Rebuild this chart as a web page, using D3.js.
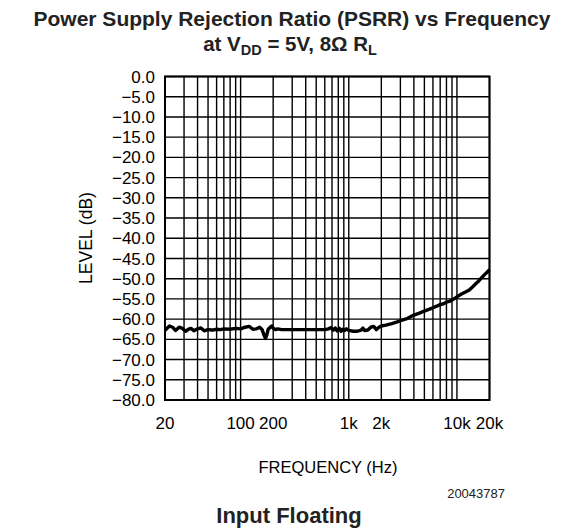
<!DOCTYPE html>
<html><head><meta charset="utf-8">
<script src="https://cdn.jsdelivr.net/npm/d3@7"></script>
<style>body{margin:0;background:#fff}</style>
</head><body>
<svg id="c" width="580" height="529"></svg>
<script>
const freq = [20,21,22,23.5,25,27,29,31,33,35,37,40,43,46,50,55,60,65,70,80,90,100,110,120,130,140,150,158,165,170,175,180,188,195,200,210,220,240,260,300,350,400,450,500,550,600,650,680,720,750,780,820,850,880,920,950,1000,1100,1200,1300,1350,1400,1500,1600,1700,1800,1900,2000,2200,2500,2800,3000,3500,4000,4500,5000,5500,6000,6500,7000,7500,8000,8500,9000,10000,11000,12000,13000,14000,15000,16000,17000,18000,19000,20000];
const psrr = [-62.8,-62.2,-61.7,-62.0,-62.8,-62.0,-62.3,-63.0,-62.5,-62.3,-62.9,-62.4,-62.2,-62.9,-62.6,-62.7,-62.5,-62.6,-62.4,-62.5,-62.3,-62.4,-62.0,-61.8,-62.5,-62.4,-62.0,-62.6,-64.0,-64.8,-63.8,-62.5,-62.0,-61.7,-62.2,-62.6,-62.4,-62.6,-62.6,-62.6,-62.6,-62.6,-62.6,-62.6,-62.6,-62.6,-62.4,-62.1,-62.7,-62.2,-62.9,-62.3,-63.0,-62.5,-62.8,-62.4,-62.8,-63.0,-63.0,-62.7,-62.2,-62.8,-62.7,-62.0,-61.8,-62.6,-62.0,-61.7,-61.5,-61.1,-60.7,-60.4,-59.8,-59.0,-58.5,-58.0,-57.6,-57.2,-56.8,-56.4,-56.2,-55.8,-55.6,-55.3,-54.5,-53.8,-53.3,-52.8,-52.0,-51.2,-50.5,-49.7,-49.0,-48.4,-47.8];
const yTicks = [0,-5,-10,-15,-20,-25,-30,-35,-40,-45,-50,-55,-60,-65,-70,-75,-80];
const xTickVals = [20,100,200,1000,2000,10000,20000];
const xTickLabels = ["20","100","200","1k","2k","10k","20k"];
const xGrid = [20,30,40,50,60,70,80,90,100,200,300,400,500,600,700,800,900,1000,2000,3000,4000,5000,6000,7000,8000,9000,10000,20000];

const svg = d3.select("#c");
const L = 165, R = 489.5, T = 76.5, B = 400;
const x = d3.scaleLog().domain([20,20000]).range([L,R]);
const y = d3.scaleLinear().domain([-80,0]).range([B,T]);

const titleFont = "'Liberation Sans', Arial, sans-serif";
const axFont = "'Liberation Sans', Arial, sans-serif";

// titles
svg.append("text").attr("x",292).attr("y",26).attr("text-anchor","middle")
  .attr("font-family",titleFont).attr("font-weight","bold").attr("font-size",21).attr("fill","#222")
  .text("Power Supply Rejection Ratio (PSRR) vs Frequency");
const t2 = svg.append("text").attr("x",290).attr("y",51).attr("text-anchor","middle")
  .attr("font-family",titleFont).attr("font-weight","bold").attr("font-size",20.5).attr("fill","#222");
t2.append("tspan").text("at V");
t2.append("tspan").attr("font-size",14.5).attr("dy",4).text("DD");
t2.append("tspan").attr("dy",-4).text(" = 5V, 8\u03A9 R");
t2.append("tspan").attr("font-size",14.5).attr("dy",4).text("L");

// grid
const g = svg.append("g");
g.selectAll("line.h").data(yTicks).join("line")
  .attr("x1",L).attr("x2",R).attr("y1",d=>y(d)).attr("y2",d=>y(d))
  .attr("stroke","#000").attr("stroke-width",1.4);
g.selectAll("line.v").data(xGrid).join("line")
  .attr("x1",d=>x(d)).attr("x2",d=>x(d)).attr("y1",T).attr("y2",B)
  .attr("stroke","#000").attr("stroke-width",1.4);
g.append("rect").attr("x",L).attr("y",T).attr("width",R-L).attr("height",B-T)
  .attr("fill","none").attr("stroke","#000").attr("stroke-width",2);

// curve
svg.append("path").datum(freq.map((f,i)=>[f,psrr[i]]))
  .attr("d", d3.line().x(d=>x(d[0])).y(d=>y(d[1])))
  .attr("fill","none").attr("stroke","#000").attr("stroke-width",3.4).attr("stroke-linejoin","round");

// y tick labels
svg.selectAll("text.yt").data(yTicks).join("text")
  .attr("x",155).attr("y",d=>y(d)).attr("dy","0.36em").attr("text-anchor","end")
  .attr("font-family",axFont).attr("font-size",17).attr("fill","#000")
  .text(d=>(d<0?"\u2212":"")+Math.abs(d).toFixed(1));

// x tick labels
svg.selectAll("text.xt").data(xTickVals).join("text")
  .attr("x",d=>x(d)).attr("y",429).attr("text-anchor","middle")
  .attr("font-family",axFont).attr("font-size",17).attr("fill","#000")
  .text((d,i)=>xTickLabels[i]);

// axis titles
svg.append("text").attr("transform","translate(92,238) rotate(-90)").attr("text-anchor","middle")
  .attr("font-family",axFont).attr("font-size",17.5).attr("fill","#000").text("LEVEL (dB)");
svg.append("text").attr("x",328).attr("y",473).attr("text-anchor","middle")
  .attr("font-family",axFont).attr("font-size",16.5).attr("fill","#000").text("FREQUENCY (Hz)");

svg.append("text").attr("x",505).attr("y",498).attr("text-anchor","end")
  .attr("font-family",titleFont).attr("font-size",13).attr("fill","#222").text("20043787");
svg.append("text").attr("x",289).attr("y",523).attr("text-anchor","middle")
  .attr("font-family",titleFont).attr("font-weight","bold").attr("font-size",22).attr("fill","#222").text("Input Floating");
</script>
</body></html>
